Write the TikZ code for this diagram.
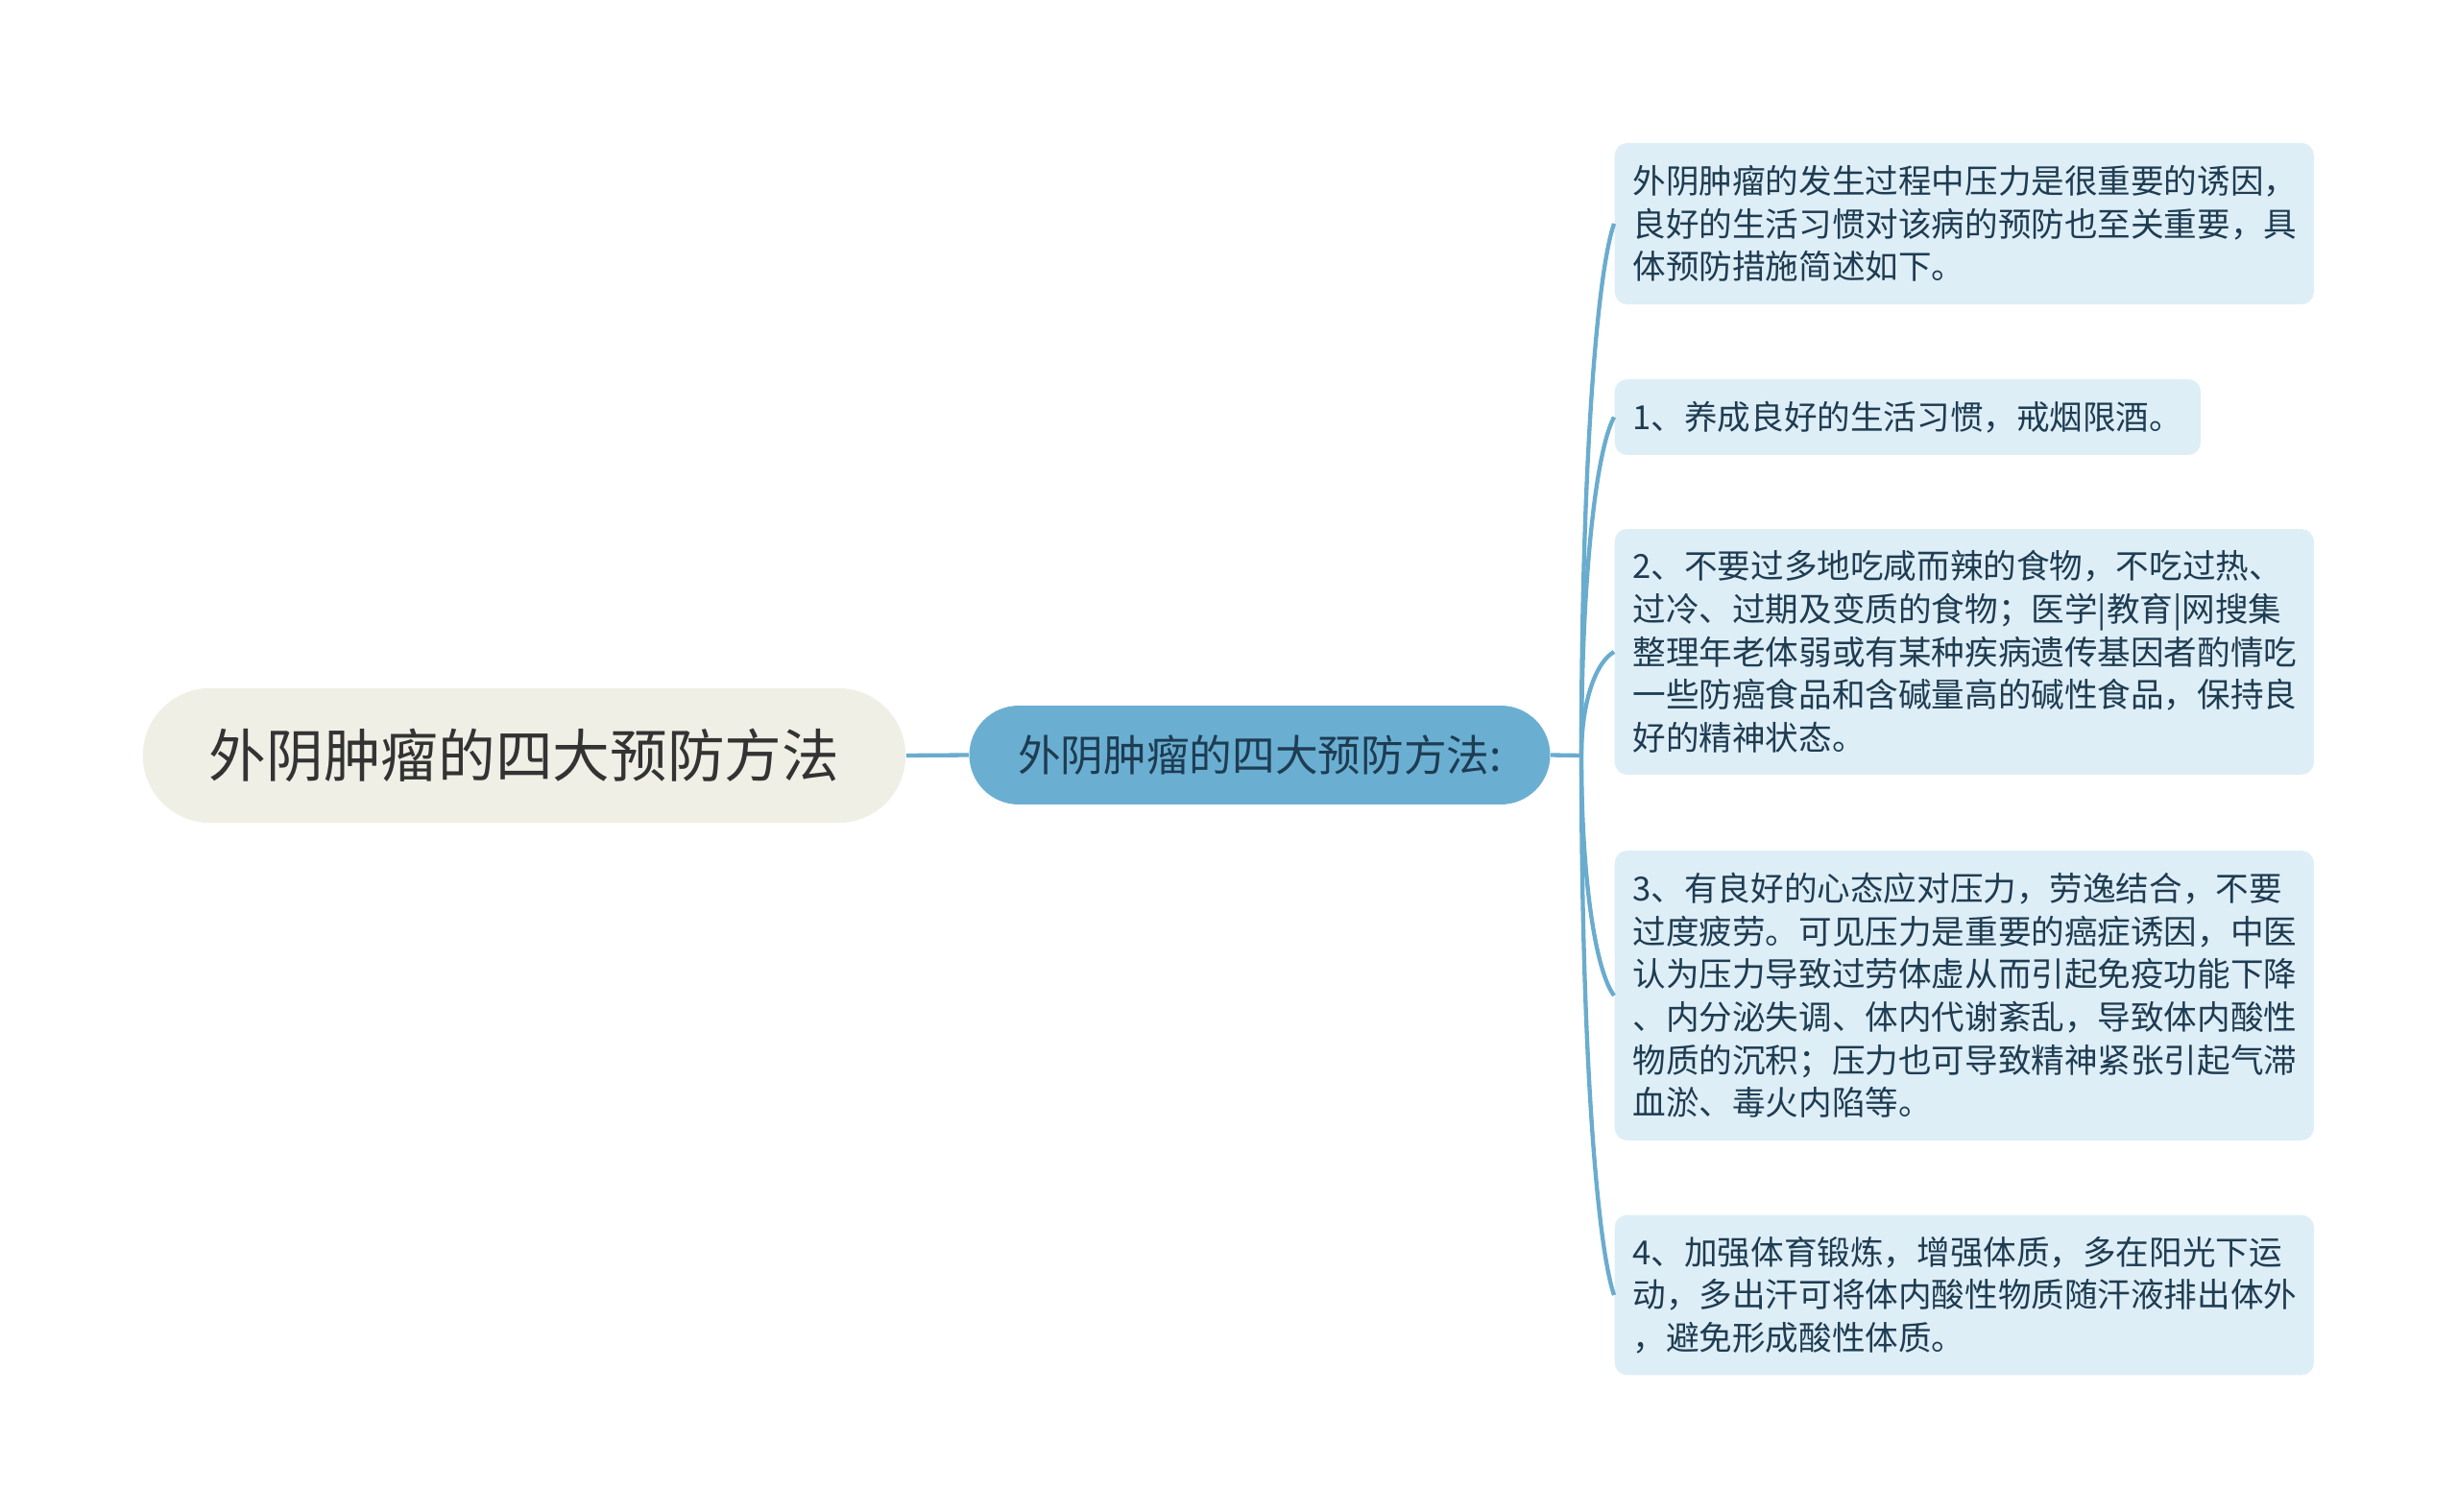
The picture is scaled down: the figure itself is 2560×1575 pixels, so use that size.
\documentclass[tikz,border=0pt]{standalone}
\usepackage{fontspec}
\setmainfont{Noto Sans CJK SC}
\usetikzlibrary{calc,shapes.misc}
\definecolor{rootfill}{RGB}{239,239,230}
\definecolor{midfill}{RGB}{106,175,210}
\definecolor{leaffill}{RGB}{222,238,247}
\definecolor{leaftext}{RGB}{30,60,82}
\definecolor{linkcol}{RGB}{106,172,206}
\tikzset{
	rootnode/.style={rounded rectangle, fill=rootfill, minimum width=9.92cm, minimum height=1.71cm, text=black!80, font=\fontsize{20.7pt}{24pt}\selectfont},
	midnode/.style={rounded rectangle, fill=midfill, minimum width=7.61cm, minimum height=1.255cm, text=leaftext, font=\fontsize{15.5pt}{18pt}\selectfont},
	leafnode/.style={anchor=west, fill=leaffill, rounded corners=0.16cm, align=left, inner xsep=0.23cm, text=leaftext, font=\fontsize{12pt}{15.5pt}\selectfont},
	wideleaf/.style={leafnode, text width=8.42cm},
	link/.style={draw=linkcol, line width=1.5pt}
}
\begin{document}
\begin{tikzpicture}[x=0.0121875cm,y=-0.0121875cm]
		%%%%% START %%%%%
		\useasboundingbox (0,0) rectangle (2560,1575);
		
		\node[rootnode] (root) at (546,787) {外阴肿瘤的四大预防方法};
		\node[midnode] (mid) at (1312,786.5) {外阴肿瘤的四大预防方法:};
		\coordinate (hub) at (1647,787);
		
		\node[wideleaf, minimum height=2.05cm] (tip0) at (1681,233) {外阴肿瘤的发生过程中压力是很重要的诱因，\\良好的生活习惯对该病的预防也至关重要，具\\体预防措施简述如下。};
		\node[leafnode, minimum height=0.963cm] (tip1) at (1681,434.5) {1、养成良好的生活习惯，戒烟限酒。};
		\node[wideleaf, minimum height=3.12cm] (tip2) at (1681,679) {2、不要过多地吃咸而辣的食物，不吃过热、\\过冷、过期及变质的食物；医学|教育|网搜集\\整理年老体弱或有某种疾病遗传基因者酌情吃\\一些防癌食品和含碱量高的碱性食品，保持良\\好的精神状态。};
		\node[wideleaf, minimum height=3.68cm] (tip3) at (1681,1037) {3、有良好的心态应对压力，劳逸结合，不要\\过度疲劳。可见压力是重要的癌症诱因，中医\\认为压力导致过劳体虚从而引起免疫功能下降\\、内分泌失调、体内代谢紊乱，导致体内酸性\\物质的沉积；压力也可导致精神紧张引起气滞\\血淤、毒火内陷等。};
		\node[wideleaf, minimum height=2.035cm] (tip4) at (1681,1349) {4、加强体育锻炼，增强体质，多在阳光下运\\动，多出汗可将体内酸性物质随汗液排出体外\\，避免形成酸性体质。};
		
		\draw[link] (root.east) -- (mid.west);
		\draw[link] (mid.east) -- (hub);
		\foreach \t in {0,...,4}
			\draw[link] (hub) .. controls ($(hub)!0.52!(hub |- tip\t.west)$) and ($(tip\t.west)!0.1!(tip\t.west |- hub) + (-19,0)$) .. (tip\t.west);
		
		%%%%% END %%%%%
\end{tikzpicture}
\end{document}
